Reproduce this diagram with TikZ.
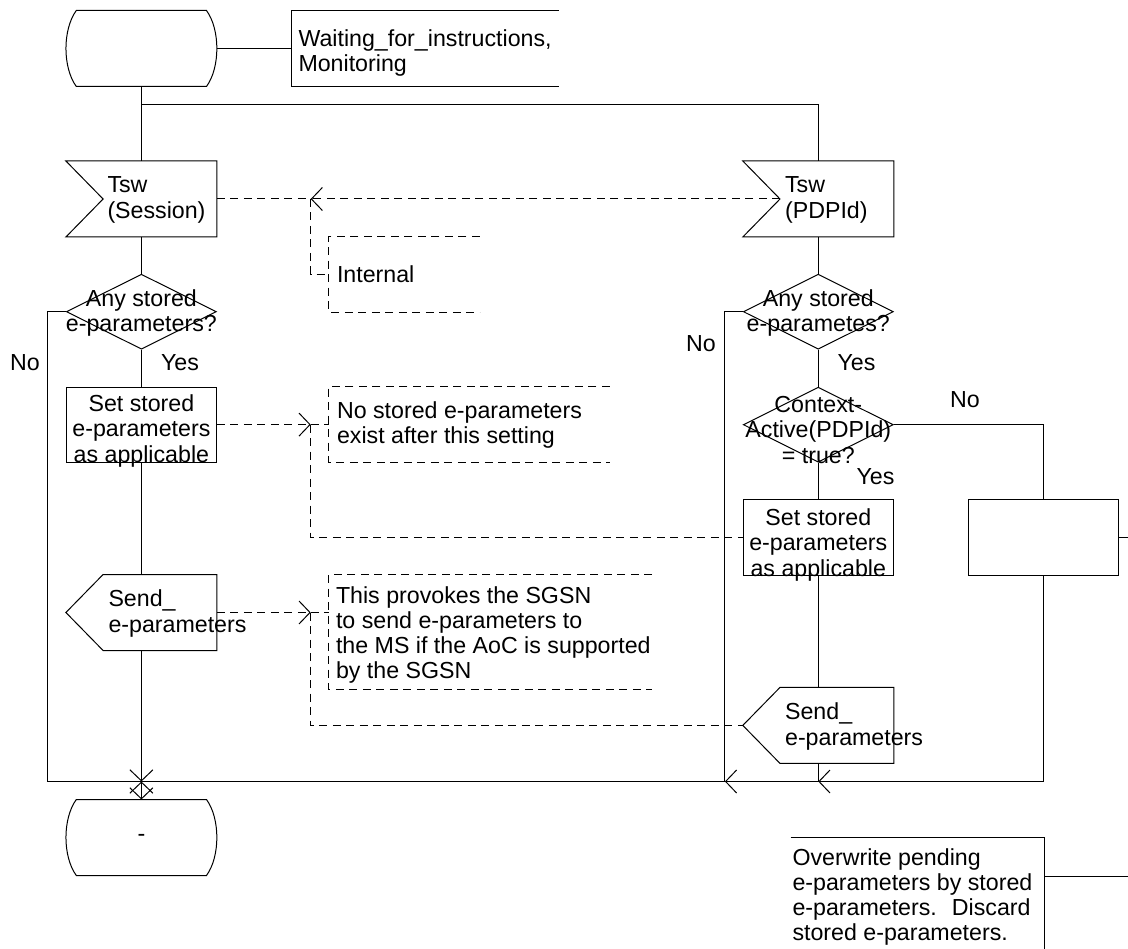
\documentclass[tikz,border=0pt]{standalone}
\usepackage{fontspec}
\setmainfont{Liberation Sans}
\usetikzlibrary{arrows.meta,positioning,calc,shapes.geometric}
\newcommand{\sdlfont}{\fontsize{23.2}{25.3}\selectfont}

\begin{document}
\begin{tikzpicture}[x=1pt, y=-1pt, line width=1pt,
  flowtip/.style={-{Straight Barb[length=11pt,width=23pt]}},
  cmt/.style={dash pattern=on 8pt off 5.5pt},
  lbl/.style={font=\sdlfont, inner sep=0pt, align=center},
  ltxt/.style={font=\sdlfont, inner sep=0pt, align=left, anchor=west},
  sdlframe/.style={rectangle, inner sep=0pt, minimum width=150pt, minimum height=75pt},
  task/.style={sdlframe, draw},
  decision/.style={diamond, draw, inner sep=0pt, minimum width=150pt, minimum height=75pt}]
  \useasboundingbox (0,0) rectangle (1128,949);
  %--- symbols, left column ---
  \node[sdlframe] (st0)  at (141.4,48.5) {};
  \node[sdlframe] (tswA) at (141.4,199) {};
  \node[decision] (decA) at (141.4,311.7) {};
  \node[task]     (setA) at (141.4,424.6) {};
  \node[sdlframe] (outA) at (141.4,612.5) {};
  \node[sdlframe] (st1)  at (141.4,837.5) {};
  %--- symbols, right column ---
  \node[sdlframe] (tswB) at (818.3,199) {};
  \node[decision] (decB) at (818.3,311.7) {};
  \node[decision] (decC) at (818.3,424.7) {};
  \node[task]     (setB) at (818.3,537.5) {};
  \node[sdlframe] (outB) at (818.3,725.4) {};
  \node[task]     (bx)   at (1043.5,537.5) {};
  %--- comment frames ---
  \node[sdlframe, minimum width=266pt] (txtw) at (425,48.5) {};
  \node[sdlframe] (intc) at (404.3,274.2) {};
  \node[sdlframe, minimum width=280pt] (noc) at (469.3,424.2) {};
  \node[sdlframe, minimum width=322.4pt, minimum height=114pt] (prc) at (490.5,632) {};
  \node[sdlframe, minimum width=252.5pt, minimum height=114pt] (ovc) at (917.25,895) {};
  %--- outlines ---
  \foreach \s in {st0,st1}
    \draw ($(\s.north west)+(10.4,0)$) -- ($(\s.north east)+(-10.4,0)$)
      .. controls ($(\s.north east)+(3.4,19)$) and ($(\s.south east)+(3.4,-19)$) .. ($(\s.south east)+(-10.4,0)$)
      -- ($(\s.south west)+(10.4,0)$)
      .. controls ($(\s.south west)+(-3.4,-19)$) and ($(\s.north west)+(-3.4,19)$) .. ($(\s.north west)+(10.4,0)$) -- cycle;
  \foreach \n in {tswA,tswB}
    \draw (\n.north west) -- (\n.north east) -- (\n.south east) -- (\n.south west) -- ($(\n.west)+(37.2,0)$) -- cycle;
  \foreach \n in {outA,outB}
    \draw ($(\n.north west)+(37.2,0)$) -- (\n.north east) -- (\n.south east) -- ($(\n.south west)+(37.2,0)$) -- (\n.west) -- cycle;
  \draw (txtw.north east) -- (txtw.north west) -- (txtw.south west) -- (txtw.south east);
  \draw (ovc.north west) -- (ovc.north east) -- (ovc.south east) -- (ovc.south west);
  \foreach \c in {intc,noc,prc}
    \draw[cmt] (\c.north east) -- (\c.north west) -- (\c.south west) -- (\c.south east);
  %--- texts ---
  \node[ltxt] (tw) at (298,53) {Waiting\_for\_instructions,\\Monitoring};
  \node[ltxt] (ta) at (107,200) {Tsw\\(Session)};
  \node[lbl]  (qa) at (141.4,313) {Any stored\\e-parameters?};
  \node[lbl]  (sa) at (141.4,431) {Set stored\\e-parameters\\as applicable};
  \node[ltxt] (oa) at (108,613.5) {Send\_\\e-parameters};
  \node[lbl]  (ea) at (141.4,838) {-};
  \node[ltxt] (tb) at (784.6,200) {Tsw\\(PDPId)};
  \node[lbl]  (qb) at (818.3,313) {Any stored\\e-parametes?};
  \node[lbl]  (qc) at (818.3,430) {Context-\\Active(PDPId)\\= true?};
  \node[lbl]  (sb) at (818.3,545) {Set stored\\e-parameters\\as applicable};
  \node[ltxt] (ob) at (784.6,726.5) {Send\_\\e-parameters};
  \node[ltxt] (ti) at (336.5,274) {Internal};
  \node[ltxt] (tn) at (336.5,425) {No stored e-parameters\\exist after this setting};
  \node[ltxt] (tp) at (335.5,635) {This provokes the SGSN\\to send e-parameters to\\the MS if the AoC is supported\\by the SGSN};
  \node[ltxt] (to) at (792,897) {Overwrite pending\\e-parameters by stored\\e-parameters.~ Discard\\stored e-parameters.};
  \node[lbl] (nA) at (25,363) {No};
  \node[lbl] (yA) at (180,363) {Yes};
  \node[lbl] (nB) at (701,344) {No};
  \node[lbl] (yB) at (856.5,363) {Yes};
  \node[lbl] (nC) at (965,400) {No};
  \node[lbl] (yC) at (875.5,477) {Yes};
  %--- flow lines ---
  \coordinate (br) at (141.4,105);
  \coordinate (jA) at (141.4,781.5);
  \coordinate (jL) at (47.9,781.5);
  \coordinate (jB) at (818.3,781.5);
  \coordinate (jC) at (724.9,781.5);
  \coordinate (bxr) at (1128,537.5);
  \coordinate (ovr) at (1128,876);
  \draw (st0.east) -- (txtw.west);
  \draw (st0.south) -- (tswA.north);
  \draw (br) -| (tswB.north);
  \draw (tswA.south) -- (decA.north);
  \draw (decA.south) -- (setA.north);
  \draw (setA.south) -- (outA.north);
  \draw[flowtip] (outA.south) -- (jA);
  \draw (decA.west) -| (jL) -- (jA);
  \draw (jA) -- (st1.north);
  \draw[{Straight Barb[length=11pt,width=23pt]}-{Straight Barb[length=11pt,width=23pt]}] (jA) -- (st1.north);
  \draw (tswB.south) -- (decB.north);
  \draw (decB.south) -- (decC.north);
  \draw (decC.south) -- (setB.north);
  \draw (setB.south) -- (outB.north);
  \draw (outB.south) -- (jB);
  \draw (decB.west) -| (jC);
  \draw (decC.east) -| (bx.north);
  \draw[flowtip] (bx.south) |- (jB);
  \draw[flowtip] (jB) -- (jC);
  \draw (jC) -- (jA);
  \draw (bx.east) -- (bxr);
  \draw (ovc.east |- ovr) -- (ovr);
  %--- comment links ---
  \coordinate (cI) at (310.7,199);
  \coordinate (cN) at (310.7,424.6);
  \coordinate (cS) at (310.7,612.5);
  \draw[cmt] (tswA.east) -- (cI);
  \draw[cmt,flowtip] ($(tswB.west)+(37.2,0)$) -- (cI);
  \draw[cmt] (cI) |- (intc.west);
  \draw[cmt,flowtip] (setA.east) -- (cN);
  \draw[cmt] (cN) -- (cN -| noc.west);
  \draw[cmt] (cN) |- (setB.west);
  \draw[cmt,flowtip] (outA.east) -- (cS);
  \draw[cmt] (cS) -- (cS -| prc.west);
  \draw[cmt] (cS) |- (outB.west);
\end{tikzpicture}
\end{document}
